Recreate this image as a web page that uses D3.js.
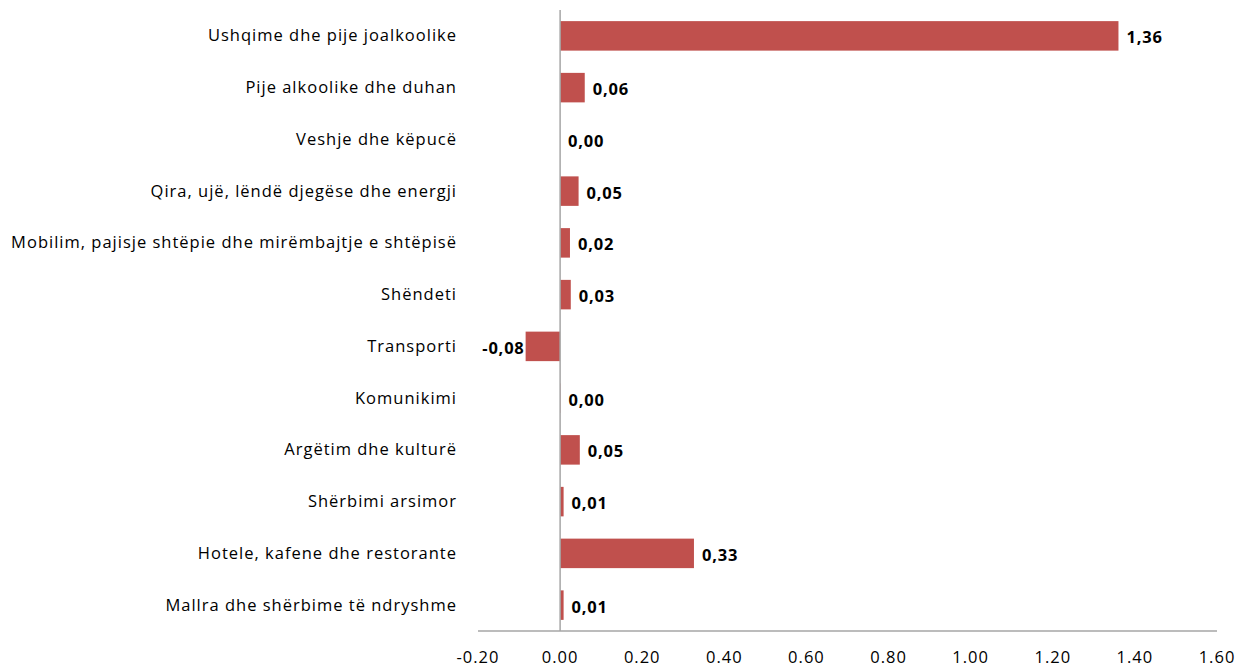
<!DOCTYPE html>
<html><head><meta charset="utf-8">
<script src="https://cdn.jsdelivr.net/npm/d3@7"></script>
<style>body{margin:0;background:#fff} svg text{font-family:"Open Sans",sans-serif}</style>
</head><body><svg id="c" width="1239" height="666"></svg>
<script>
const categories = [
  "Ushqime dhe pije joalkoolike",
  "Pije alkoolike dhe duhan",
  "Veshje dhe këpucë",
  "Qira, ujë, lëndë djegëse dhe energji",
  "Mobilim, pajisje shtëpie dhe mirëmbajtje e shtëpisë",
  "Shëndeti",
  "Transporti",
  "Komunikimi",
  "Argëtim dhe kulturë",
  "Shërbimi arsimor",
  "Hotele, kafene dhe restorante",
  "Mallra dhe shërbime të ndryshme"
];
const values = [1.36, 0.06, 0.0, 0.045, 0.024, 0.026, -0.084, 0.001, 0.048, 0.0085, 0.326, 0.0085];
const valueLabels = ["1,36","0,06","0,00","0,05","0,02","0,03","-0,08","0,00","0,05","0,01","0,33","0,01"];
const xTicks = [-0.2, 0, 0.2, 0.4, 0.6, 0.8, 1.0, 1.2, 1.4, 1.6];

const svg = d3.select("#c");
const x = d3.scaleLinear().domain([-0.2, 1.6]).range([478, 1217]);
const y = d3.scaleBand().domain(categories).range([10, 631]).paddingInner(0.43).paddingOuter(0.215);
const axisColor = "#a6a6a6";

svg.selectAll("rect.bar").data(values).enter().append("rect")
  .attr("class","bar")
  .attr("x", d => x(Math.min(0,d)))
  .attr("width", d => Math.abs(x(d) - x(0)))
  .attr("y", (d,i) => y(categories[i]))
  .attr("height", y.bandwidth())
  .attr("fill", "#c0504d");

// axes
svg.append("line").attr("x1", x(-0.2)).attr("x2", x(1.6)).attr("y1", 631).attr("y2", 631)
  .attr("stroke", axisColor).attr("stroke-width", 1.5);
svg.append("line").attr("x1", x(0)).attr("x2", x(0)).attr("y1", 10).attr("y2", 631)
  .attr("stroke", axisColor).attr("stroke-width", 1.5);

// category labels
svg.selectAll("text.cat").data(categories).enter().append("text")
  .attr("class","cat")
  .attr("x", 457)
  .attr("y", d => y(d) + y.bandwidth()/2 + 5.5)
  .attr("text-anchor","end")
  .attr("font-size", 16.5)
  .attr("letter-spacing", 1)
  .attr("fill", "#000")
  .text(d => d);

// value labels
svg.selectAll("text.val").data(values).enter().append("text")
  .attr("class","val")
  .attr("x", d => d < 0 ? x(d) - 1 : x(d) + 8)
  .attr("y", (d,i) => y(categories[i]) + y.bandwidth()/2 + 7.5)
  .attr("text-anchor", d => d < 0 ? "end" : "start")
  .attr("font-size", 16.5)
  .attr("letter-spacing", 0.8)
  .attr("font-weight", "bold")
  .attr("fill", "#000")
  .text((d,i) => valueLabels[i]);

// tick labels
svg.selectAll("text.tick").data(xTicks).enter().append("text")
  .attr("class","tick")
  .attr("x", d => x(d))
  .attr("y", 662.5)
  .attr("text-anchor","middle")
  .attr("font-size", 16.5)
  .attr("letter-spacing", 1)
  .attr("fill", "#000")
  .text(d => d3.format(".2f")(d).replace("−","-"));
</script></body></html>
